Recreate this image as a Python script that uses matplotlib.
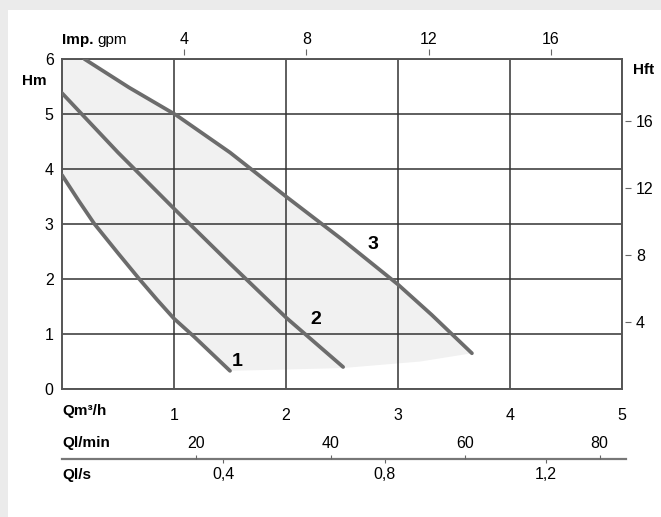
import matplotlib

matplotlib.use("Agg")
import matplotlib.pyplot as plt
from matplotlib.patches import Rectangle

plt.rcParams["font.family"] = ["Liberation Sans", "DejaVu Sans"]

# pump curves, Q in m3/h, H in m
curve1_q = [0.0, 0.15, 0.29, 0.5, 0.69, 0.85, 1.0, 1.18, 1.5]
curve1_h = [3.89, 3.42, 3.0, 2.47, 2.0, 1.62, 1.28, 0.95, 0.33]
curve2_q = [0.0, 0.5, 1.0, 1.5, 2.0, 2.51]
curve2_h = [5.38, 4.3, 3.28, 2.28, 1.3, 0.4]
curve3_q = [0.2, 0.6, 1.02, 1.5, 2.0, 2.5, 3.0, 3.3, 3.66]
curve3_h = [6.0, 5.48, 4.98, 4.3, 3.5, 2.72, 1.9, 1.35, 0.65]
curve_names = ["1", "2", "3"]
label_q = [1.56, 2.27, 2.78]
label_h = [0.5, 1.27, 2.62]

# lower edge of the grey working area
shade_q = [3.66, 3.2, 2.5, 1.5]
shade_h = [0.65, 0.5, 0.38, 0.33]

q_ticks = [1, 2, 3, 4, 5]
h_ticks = [0, 1, 2, 3, 4, 5, 6]
gpm_ticks = [4, 8, 12, 16]
hft_ticks = [4, 8, 12, 16]
lmin_ticks = [20, 40, 60, 80]
ls_ticks = [0.4, 0.8, 1.2]

M3H_TO_GPM = 3.6662
M_TO_FT = 3.2808

fig = plt.figure(figsize=(6.61, 5.17), dpi=100)
fig.patch.set_facecolor("#ebebeb")
fig.patches.append(
    Rectangle((8 / 661, 0), 1, 1 - 10 / 517, transform=fig.transFigure, facecolor="white", edgecolor="none", zorder=-5)
)

ax = fig.add_axes([62 / 661, 128 / 517, 560 / 661, 330 / 517])
ax.set_facecolor("none")
ax.set_xlim(0, 5)
ax.set_ylim(0, 6)

poly_q = [0.0] + curve3_q + shade_q + curve1_q[::-1]
poly_h = [6.0] + curve3_h + shade_h + curve1_h[::-1]
ax.fill(poly_q, poly_h, color="#f1f1f1", zorder=0, lw=0)

ax.grid(True, color="#333333", lw=1.1, zorder=1)
for s in ax.spines.values():
    s.set_color("#555555")
    s.set_linewidth(1.4)

for q, h in [(curve1_q, curve1_h), (curve2_q, curve2_h), (curve3_q, curve3_h)]:
    ax.plot(q, h, color="#6c6c6c", lw=2.7, solid_capstyle="round", solid_joinstyle="round", zorder=3)
for name, q, h in zip(curve_names, label_q, label_h):
    ax.text(q, h, name, fontsize=14, fontweight="bold", ha="center", va="center", zorder=4)

ax.set_xticks(q_ticks)
ax.set_yticks(h_ticks)
ax.tick_params(axis="x", length=0, pad=14, labelsize=11.5)
ax.tick_params(axis="y", length=0, pad=6, labelsize=11.5)

# top: imperial gpm
top = ax.secondary_xaxis(1.012, functions=(lambda q: q * M3H_TO_GPM, lambda g: g / M3H_TO_GPM))
top.set_xticks(gpm_ticks)
top.tick_params(axis="x", length=4, width=0.8, color="#666666", pad=2, labelsize=11.5)
top.spines[:].set_visible(False)

# right: head in feet
right = ax.secondary_yaxis(1.005, functions=(lambda h: h * M_TO_FT, lambda f: f / M_TO_FT))
right.set_yticks(hft_ticks)
right.tick_params(axis="y", length=4, width=0.8, color="#666666", pad=4, labelsize=11.5)
right.spines[:].set_visible(False)

# bottom scales: l/min above the line, l/s below
line_y = -70 / 330
ls_ax = ax.secondary_xaxis(line_y, functions=(lambda q: q / 3.6, lambda s: s * 3.6))
ls_ax.set_xticks(ls_ticks, [f"{v:.1f}".replace(".", ",") for v in ls_ticks])
ls_ax.tick_params(axis="x", length=3, width=0.8, color="#666666", pad=3, labelsize=11.5)
ls_ax.spines["bottom"].set_color("#777777")
ls_ax.spines["bottom"].set_linewidth(1.6)
ls_ax.spines["bottom"].set_bounds(0, 5.04 / 3.6)

lmin_ax = ax.secondary_xaxis(line_y, functions=(lambda q: q * 50 / 3, lambda m: m * 3 / 50))
lmin_ax.set_xticks(lmin_ticks)
lmin_ax.xaxis.set_ticks_position("top")
lmin_ax.tick_params(axis="x", top=True, bottom=False, labeltop=True, labelbottom=False,
                    length=3, width=0.8, color="#666666", pad=3, labelsize=11.5)
lmin_ax.spines[:].set_visible(False)

# unit labels
fig.text(62 / 661, 1 - 40 / 517, "Imp.", fontsize=11, fontweight="bold", va="center")
fig.text(97 / 661, 1 - 40 / 517, "gpm", fontsize=11, va="center")
fig.text(22 / 661, 1 - 81 / 517, "Hm", fontsize=11, fontweight="bold", va="center")
fig.text(633 / 661, 1 - 70 / 517, "Hft", fontsize=11, fontweight="bold", va="center")
fig.text(62 / 661, 1 - 411 / 517, "Qm³/h", fontsize=11, fontweight="bold", va="center")
fig.text(62 / 661, 1 - 443 / 517, "Ql/min", fontsize=11, fontweight="bold", va="center")
fig.text(62 / 661, 1 - 475 / 517, "Ql/s", fontsize=11, fontweight="bold", va="center")

fig.savefig("out.png", dpi=100, facecolor=fig.get_facecolor())
